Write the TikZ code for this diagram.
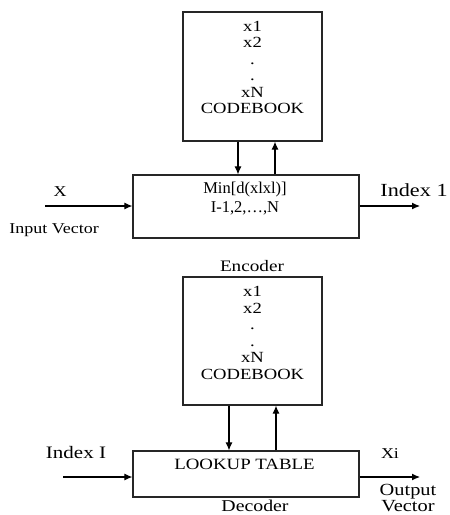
\documentclass[tikz,border=0pt]{standalone}
\usepackage{fontspec}
\setmainfont[FakeStretch=1.2]{Liberation Serif}
\newfontfamily\plainserif{Liberation Serif}
\usetikzlibrary{arrows.meta, positioning}

\begin{document}
\begin{tikzpicture}[
    x=1pt, y=-1pt,
    box/.style={rectangle, draw=black!85, line width=1.2pt, inner sep=0pt},
    cbtext/.style={align=center, inner sep=0pt, font=\fontsize{15.5}{16.5}\selectfont},
    boxtext/.style={align=center, inner sep=0pt, font=\plainserif\fontsize{16.5}{19}\selectfont},
    lbl/.style={inner sep=0pt, align=center, font=\fontsize{15}{17}\selectfont},
    arrow/.style={-{Latex[length=8pt,width=7pt]}, line width=1.1pt}
]
\useasboundingbox (0,0) rectangle (450,515);

% encoder half
\node[box, minimum width=139pt, minimum height=129pt] (cb1) at (252.5,76.5) {};
\node[cbtext, below=9.5pt of cb1.north] (cb1txt) {x1\\x2\\.\\.\\xN\\CODEBOOK};
\node[box, minimum width=226pt, minimum height=63pt] (enc) at (246,206.5) {};
\node[boxtext, below=7pt of enc.north, xshift=-1pt] (enctxt) {Min[d(xlxl)]\\I-1,2,\dots,N};

\draw[arrow] ([xshift=-14.5pt]cb1.south) -- ([xshift=-14.5pt]cb1.south |- enc.north);
\draw[arrow] ([xshift=22.5pt]cb1.south |- enc.north) -- ([xshift=22.5pt]cb1.south);

\coordinate (inx) at (45,206);
\coordinate (outx) at (420,206);
\draw[arrow] (inx) -- (inx -| enc.west);
\draw[arrow] (outx -| enc.east) -- (outx);

\node[lbl] (xlbl) at (60,192) {X};
\node[lbl] (invec) at (54,230) {Input Vector};
\node[lbl, font=\fontsize{18.5}{20}\selectfont] (idx1) at (414,190) {Index 1};
\node[lbl, font=\fontsize{16}{18}\selectfont] (enclbl) at (252,266) {Encoder};

% decoder half
\node[box, minimum width=139pt, minimum height=128pt] (cb2) at (252.5,341) {};
\node[cbtext, below=10pt of cb2.north] (cb2txt) {x1\\x2\\.\\.\\xN\\CODEBOOK};
\node[box, minimum width=226pt, minimum height=46pt] (lut) at (246,474) {};
\node[lbl, font=\fontsize{15.7}{18}\selectfont, below=8pt of lut.north, xshift=-1.5pt] (luttxt) {LOOKUP TABLE};

\draw[arrow] ([xshift=-23.5pt]cb2.south) -- ([xshift=-23.5pt]cb2.south |- lut.north);
\draw[arrow] ([xshift=23.5pt]cb2.south |- lut.north) -- ([xshift=23.5pt]cb2.south);

\coordinate (ini) at (63,477);
\coordinate (outi) at (420,477);
\draw[arrow] (ini) -- (ini -| lut.west);
\draw[arrow] (outi -| lut.east) -- (outi);

\node[lbl, font=\fontsize{17.5}{18}\selectfont] (idxi) at (76,453) {Index I};
\node[lbl] (xilbl) at (390,454) {Xi};
\node[lbl, font=\fontsize{17}{16.5}\selectfont] (outvec) at (408,498) {Output\\Vector};
\node[lbl, font=\fontsize{16.5}{18}\selectfont] (declbl) at (255,506) {Decoder};
\end{tikzpicture}
\end{document}
